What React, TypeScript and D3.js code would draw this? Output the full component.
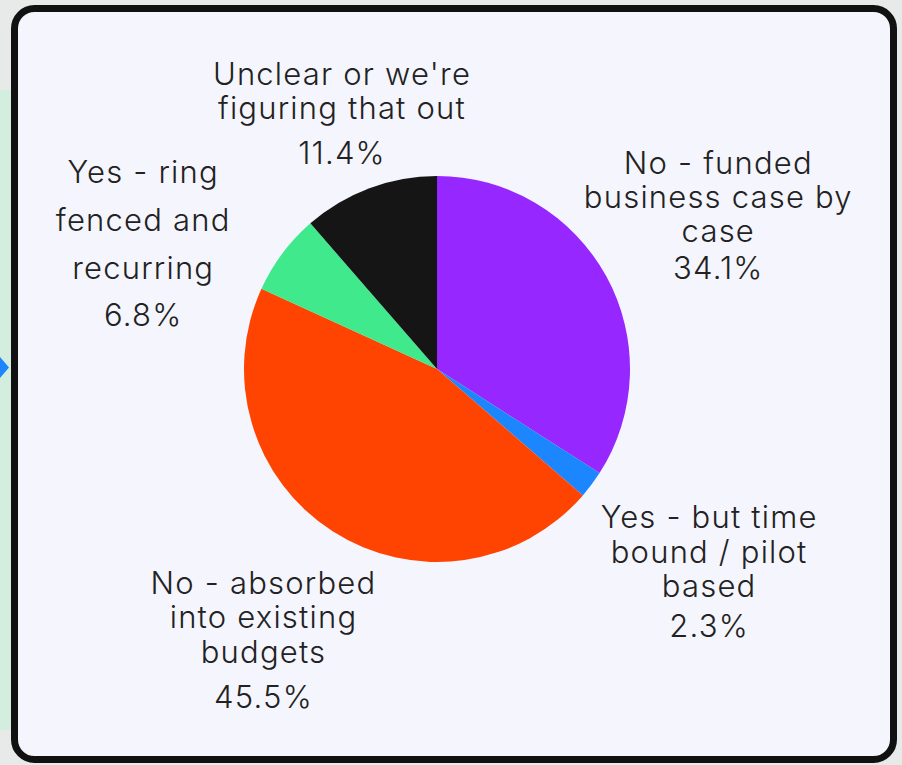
import React from "react";
import * as d3 from "d3";

const categories = [
  "No - funded business case by case",
  "Yes - but time bound / pilot based",
  "No - absorbed into existing budgets",
  "Yes - ring fenced and recurring",
  "Unclear or we're figuring that out",
];
const values = [34.1, 2.3, 45.5, 6.8, 11.4];
const colors = ["#9727FF", "#1C86FF", "#FF4300", "#3FE98C", "#151515"];
const labelLines = [
  ["No - funded", "business case by", "case"],
  ["Yes - but time", "bound / pilot", "based"],
  ["No - absorbed", "into existing", "budgets"],
  ["Yes - ring", "fenced and", "recurring"],
  ["Unclear or we're", "figuring that out"],
];

// layout
const W = 902;
const H = 765;
const cx = 437;
const cy = 369;
const R = 193;
const labelRadius = [320, 339, 322, 320, 273];
const labelAngleShift = [0, 0, 0, -13.7, 0];
const lineStep = [34, 34.5, 34.5, 48, 33.5];
const pctGap = [37, 40, 45, 47, 45];
const capH = 22;

export default function App() {
  const pie = d3
    .pie<number>()
    .sort(null)
    .value((d) => d);
  const arcs = pie(values);
  const arc = d3.arc<d3.PieArcDatum<number>>().innerRadius(0).outerRadius(R);

  return (
    <svg
      width={W}
      height={H}
      style={{ position: "absolute", left: 0, top: 0, display: "block" }}
    >
      <rect x={0} y={0} width={W} height={H} fill="#e8eae9" />
      <rect x={0} y={90} width={12} height={640} fill="#d3eedf" />
      <path d="M0,357 L9,367.5 L0,378 Z" fill="#1d86ff" />
      <rect
        x={14.5}
        y={8.5}
        width={879}
        height={751}
        rx={20}
        ry={20}
        fill="#f5f5fd"
        stroke="#111"
        strokeWidth={7}
      />
      <g transform={`translate(${cx},${cy})`}>
        {arcs.map((a, i) => (
          <path key={categories[i]} d={arc(a) || ""} fill={colors[i]} />
        ))}
      </g>
      <g
        fontFamily="Inter, 'Noto Sans', sans-serif"
        fontSize={31}
        fontWeight={300}
        letterSpacing={1.2}
        fill="#222"
        textAnchor="middle"
      >
        {arcs.map((a, i) => {
          const mid = (a.startAngle + a.endAngle) / 2 + (labelAngleShift[i] * Math.PI) / 180;
          const ax = cx + labelRadius[i] * Math.sin(mid) + 0.6;
          const ay = cy - labelRadius[i] * Math.cos(mid);
          const lines = labelLines[i];
          const blockH = capH + (lines.length - 1) * lineStep[i] + pctGap[i];
          const firstBase = ay - blockH / 2 + capH;
          const pct = d3.format(".1f")(values[i]) + "%";
          return (
            <g key={categories[i]}>
              {lines.map((l, j) => (
                <text key={j} x={ax} y={firstBase + j * lineStep[i]}>
                  {l}
                </text>
              ))}
              <text
                x={ax}
                y={firstBase + (lines.length - 1) * lineStep[i] + pctGap[i]}
              >
                {pct}
              </text>
            </g>
          );
        })}
      </g>
    </svg>
  );
}
